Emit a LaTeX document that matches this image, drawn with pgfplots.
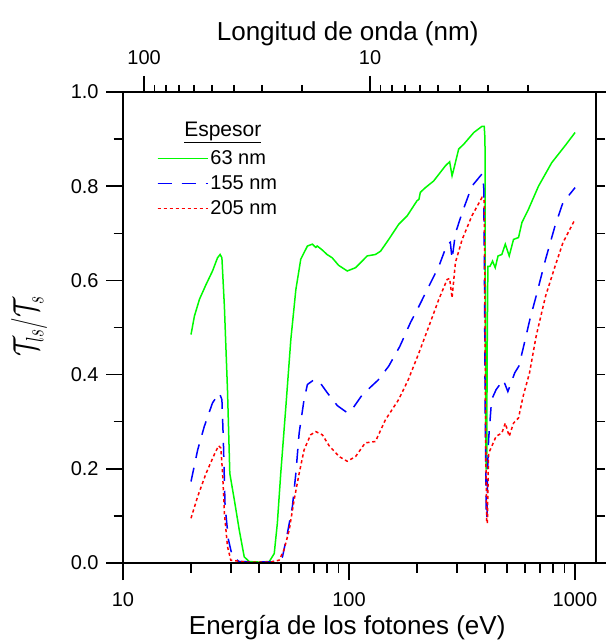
\documentclass[border=0pt]{standalone}
\usepackage{fontspec}
\setmainfont{Liberation Sans}
\usepackage{pgfplots}
\pgfplotsset{compat=1.18}
\definecolor{cgreen}{RGB}{0,250,0}
\definecolor{cblue}{RGB}{0,0,255}
\definecolor{cred}{RGB}{255,0,0}
\begin{document}
\begin{tikzpicture}
\begin{axis}[name=ax,
  width=473pt, height=471pt, scale only axis,
  xmode=log, ymin=0, ymax=1,
  axis line style={line width=1.5pt},
  tick style={line width=1.5pt, black},
  tick label style={font=\fontsize{20}{20}\selectfont},
  /pgf/number format/assume math mode=true,
  xmin=10, xmax=1240,
  xtick pos=bottom, ytick pos=left, tick align=outside,
  major tick length=17pt, minor tick length=9.5pt,
  xtick={10,100,1000}, xticklabels={10,100,1000},
  xticklabel style={yshift=-9pt},
  minor xtick={20,30,40,50,60,70,80,90,200,300,400,500,600,700,800,900},
  ytick={0,0.2,0.4,0.6,0.8,1.0}, minor ytick={0.1,0.3,0.5,0.7,0.9},
  yticklabel style={xshift=-4pt,/pgf/number format/.cd,fixed,fixed zerofill,precision=1},
  xlabel={Energía de los fotones (eV)},
  xlabel style={font=\fontsize{26}{26}\selectfont, at={([yshift=-71pt]rel axis cs:0.474,0)}, anchor=base},
  ylabel={\scalebox{1}[1.45]{$\mathcal{T}_{ls}/\mathcal{T}_{s}$}},
  ylabel style={font=\fontsize{24}{24}\selectfont, at={([xshift=-94pt]rel axis cs:0,0.503)}, anchor=center},
  legend style={at={(rel axis cs:0.065,0.884)}, anchor=north west, draw=none, fill=none,
    font=\fontsize{20}{20}\selectfont, row sep=5.5pt},
  legend cell align=left,
  legend image code/.code={\draw[#1] (0pt,0pt) -- (45pt,0pt); \path (0pt,0pt) -- (50pt,0pt);},
]
\addplot[cgreen, line width=1.5pt] coordinates {
(20.0,0.485)(20.7,0.524)(21.8,0.560)(23.3,0.591)(24.9,0.620)(26.2,0.648)(26.9,0.655)(27.4,0.648)(28.1,0.545)(29.0,0.368)(29.7,0.190)(31.1,0.134)(32.7,0.070)(34.4,0.013)(36.2,0.003)(40,0.002)(44.4,0.003)(46.7,0.020)(48.2,0.084)(49.9,0.190)(52.6,0.333)(55.3,0.474)(58.2,0.580)(61.2,0.645)(65.5,0.673)(68.9,0.677)(71.3,0.670)(72.4,0.673)(76,0.665)(80,0.655)(84.3,0.648)(90,0.632)(98.3,0.620)(107,0.627)(120.5,0.652)(131,0.655)(138,0.662)(150,0.687)(166,0.719)(181,0.737)(200,0.769)(204,0.772)(207,0.787)(218,0.797)(237,0.811)(267,0.843)(279,0.852)(286,0.822)(291,0.836)(306,0.879)(322,0.889)(357,0.914)(388,0.927)(397,0.927)(400,0.90)(401,0.60)(403,0.30)(405,0.20)(407,0.20)(409,0.45)(412,0.630)(421,0.630)(432,0.641)(444,0.627)(457,0.652)(475,0.655)(492,0.677)(512,0.652)(535,0.687)(563,0.691)(583,0.723)(623,0.751)(690,0.800)(790,0.850)(905,0.886)(1002,0.914)
};
\addlegendentry{63 nm}
\addplot[cblue, line width=1.5pt, dash pattern=on 14pt off 10pt] coordinates {
(20,0.173)(21.4,0.240)(22.9,0.290)(24.9,0.340)(26.7,0.361)(27.4,0.347)(27.8,0.262)(28.3,0.120)(29.3,0.049)(30.5,0.013)(32.7,0.003)(40,0.002)(49.1,0.003)(50.8,0.013)(53.4,0.063)(56.2,0.120)(58.2,0.190)(60.2,0.276)(63.3,0.347)(65.5,0.379)(70.0,0.389)(73.7,0.386)(80.3,0.361)(88.9,0.334)(98.3,0.319)(101.8,0.322)(114.5,0.357)(135,0.389)(150,0.418)(168,0.460)(187,0.510)(204,0.545)(226,0.588)(250,0.630)(272,0.677)(281,0.681)(286,0.645)(296,0.700)(317,0.744)(350,0.800)(388,0.826)(395,0.800)(398,0.60)(401,0.30)(405,0.10)(408,0.095)(411,0.20)(415,0.262)(428,0.347)(448,0.368)(482,0.389)(505,0.364)(542,0.404)(565,0.418)(593,0.460)(632,0.517)(674,0.567)(742,0.645)(817,0.716)(885,0.765)(1002,0.797)
};
\addlegendentry{155 nm}
\addplot[cred, line width=1.5pt, dash pattern=on 3.2pt off 2.8pt] coordinates {
(20,0.095)(21.4,0.141)(23.3,0.190)(25.5,0.233)(26.5,0.249)(27.1,0.244)(27.6,0.190)(28.1,0.106)(29.0,0.035)(30.0,0.006)(35,0.002)(45,0.002)(49.1,0.006)(51.6,0.028)(54.4,0.070)(57.2,0.134)(60.2,0.190)(63.3,0.240)(67.6,0.272)(71.3,0.279)(76.3,0.272)(81.7,0.249)(90.5,0.226)(98.3,0.216)(107,0.226)(118,0.255)(131,0.258)(145,0.304)(166,0.347)(183,0.389)(204,0.446)(226,0.503)(250,0.560)(272,0.602)(279,0.604)(286,0.563)(296,0.638)(317,0.687)(350,0.737)(388,0.776)(397,0.769)(400,0.55)(403,0.25)(407,0.09)(410,0.084)(413,0.18)(415,0.233)(428,0.247)(448,0.269)(475,0.276)(492,0.297)(512,0.269)(535,0.297)(563,0.308)(590,0.354)(630,0.404)(674,0.482)(742,0.567)(817,0.630)(885,0.680)(1002,0.730)
};
\addlegendentry{205 nm}
\node[font=\fontsize{21}{21}\selectfont, anchor=base] at (rel axis cs:0.211,0.905) {\underline{Espesor}};
\end{axis}
\begin{axis}[
  width=473pt, height=471pt, scale only axis,
  xmode=log, ymin=0, ymax=1,
  axis line style={line width=1.5pt},
  tick style={line width=1.5pt, black},
  tick label style={font=\fontsize{20}{20}\selectfont},
  /pgf/number format/assume math mode=true,
  xmin=1, xmax=124, x dir=reverse,
  xtick pos=top, xticklabel pos=top, tick align=outside,
  major tick length=16pt, minor tick length=7pt,
  xtick={10,100}, xticklabels={10,100},
  xticklabel style={yshift=8pt},
  minor xtick={2,3,4,5,6,7,8,9,20,30,40,50,60,70,80,90},
  ytick=\empty,
  xlabel={Longitud de onda (nm)},
  xlabel style={font=\fontsize{26}{26}\selectfont, at={([yshift=51pt]rel axis cs:0.475,1)}, anchor=base},
]
\end{axis}
\begin{axis}[
  width=473pt, height=471pt, scale only axis,
  xmin=0, xmax=1, ymin=0, ymax=1,
  axis x line=none, axis y line*=right,
  axis line style={line width=1.5pt, -},
  tick style={line width=1.5pt, black},
  tick align=outside, major tick length=9pt,
  xtick=\empty,
  ytick={0.1,0.2,0.3,0.4,0.5,0.6,0.7,0.8,0.9}, yticklabels={},
]
\end{axis}
\draw[line width=1.5pt] (ax.north east) -- ++(10pt,0);
\draw[line width=1.5pt] (ax.south east) -- ++(10pt,0);
\pgfresetboundingbox
\path ([xshift=-123pt,yshift=-77pt]ax.south west) rectangle ([xshift=10pt,yshift=92pt]ax.north east);
\end{tikzpicture}
\end{document}
